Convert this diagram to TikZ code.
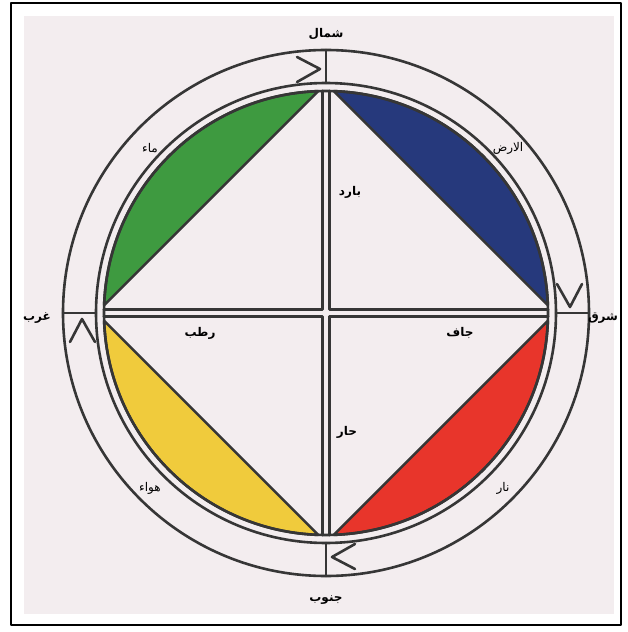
\documentclass[tikz,border=0pt]{standalone}
\usepackage{fontspec}
\newfontfamily\arabicfont[Script=Arabic]{DejaVu Sans}
\TeXXeTstate=1
\newcommand{\artxt}[1]{{\arabicfont\beginR #1\endR}}
\definecolor{bgpink}{HTML}{F3EDEF}
\definecolor{linegray}{HTML}{363636}
\definecolor{elgreen}{HTML}{3E9A40}
\definecolor{elblue}{HTML}{26397C}
\definecolor{elred}{HTML}{E8352B}
\definecolor{elyellow}{HTML}{F0CB3C}
\begin{document}
\begin{tikzpicture}[x=1pt, y=1pt, line join=round, line cap=round,
	ring/.style={line width=2.6pt, draw=linegray},
	lbl/.style={inner sep=1pt, font=\fontsize{12}{14}\selectfont},
	boldlbl/.style={lbl, font=\fontsize{12}{14}\selectfont\bfseries}]

	\useasboundingbox (-326,-319) rectangle (302,313);
	\fill[white] (-326,-319) rectangle (302,313);
	\fill[bgpink] (-302,-301) rectangle (288,297);
	\draw[line width=2.4pt] (-315,-312) rectangle (295,310);

	% --- segments of the four elements ---
	\filldraw[ring, fill=elblue] (2:222) arc[start angle=2, end angle=88, radius=222] -- cycle;
	\filldraw[ring, fill=elgreen] (92:222) arc[start angle=92, end angle=178, radius=222] -- cycle;
	\filldraw[ring, fill=elyellow] (182:222) arc[start angle=182, end angle=268, radius=222] -- cycle;
	\filldraw[ring, fill=elred] (272:222) arc[start angle=272, end angle=358, radius=222] -- cycle;

	% --- circles ---
	\draw[ring] (0,0) circle (263);
	\draw[ring] (0,0) circle (230);
	\draw[ring] (0,0) circle (222);

	% --- double cross and ring ticks ---
	\foreach \a in {0,90,180,270} {
		\draw[ring, rotate=\a] (3.4,222) -- (3.4,3.4) -- (222,3.4);
		\draw[ring, rotate=\a] (0,230) -- (0,263);
	}

	% --- arrow marks, clockwise ---
	\foreach \a in {0,-90,-180,-270}
		\draw[ring, rotate=\a] (-29,256) -- (-6,244) -- (-29,231);

	% --- directions ---
	\node[boldlbl] (north) at (0,279) {\artxt{شمال}};
	\node[boldlbl] (east) at (277,-5) {\artxt{شرق}};
	\node[boldlbl] (south) at (0,-287) {\artxt{جنوب}};
	\node[boldlbl] (west) at (-289,-5) {\artxt{غرب}};

	% --- elements ---
	\node[lbl] (water) at (-176,165) {\artxt{ماء}};
	\node[lbl] (earth) at (182,165) {\artxt{الارض}};
	\node[lbl] (air) at (-176,-175) {\artxt{هواء}};
	\node[lbl] (fire) at (177,-175) {\artxt{نار}};

	% --- qualities ---
	\node[boldlbl] (cold) at (24,121) {\artxt{بارد}};
	\node[boldlbl] (wet) at (-126,-20) {\artxt{رطب}};
	\node[boldlbl] (dry) at (134,-20) {\artxt{جاف}};
	\node[boldlbl] (hot) at (21,-119) {\artxt{حار}};

\end{tikzpicture}
\end{document}
